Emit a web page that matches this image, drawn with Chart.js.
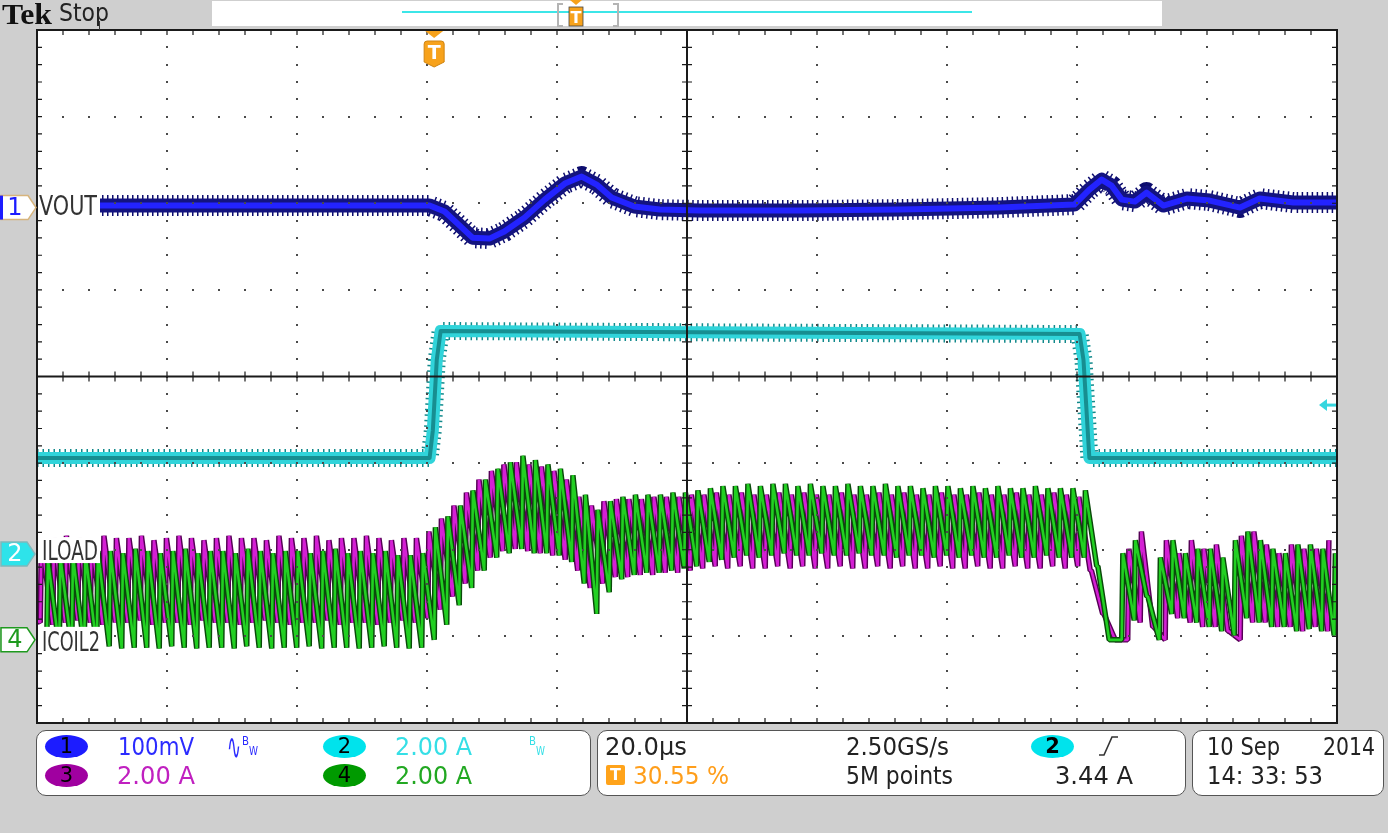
<!DOCTYPE html>
<html>
<head>
<meta charset="utf-8">
<title>Tek capture - VOUT / ILOAD / ICOIL2</title>
<script src="https://cdn.jsdelivr.net/npm/chart.js@4.4.1/dist/chart.umd.min.js"></script>
<style>
  html, body { margin: 0; padding: 0; background: #cfcfcf; }
  #wrap { position: relative; width: 1388px; height: 833px; overflow: hidden; background: #cfcfcf; }
  #scope { position: absolute; left: 0; top: 0; width: 1388px; height: 833px; }
  .txt { position: absolute; white-space: nowrap; font-family: "DejaVu Sans Condensed", "DejaVu Sans", sans-serif;
         font-stretch: condensed; font-size: 25px; line-height: 25px; color: #222; transform-origin: 0 50%; }
  .small { font-size: 12px; line-height: 12px; }
  .panel { position: absolute; background: #fff; border: 1.5px solid #555; border-radius: 10px; box-sizing: border-box; }
  .badge { position: absolute; width: 43px; height: 23px; border-radius: 50%; text-align: center;
           font: 21px/23px "DejaVu Sans", sans-serif; color: #000; }
</style>
</head>
<body>
<div id="wrap">
  <canvas id="scope" width="1388" height="833"></canvas>

  <!-- header -->
  <div class="txt" data-w="50" style="left:2px;top:0px;font-family:'Liberation Serif',serif;font-weight:bold;font-size:29px;line-height:29px;color:#111;">Tek</div>
  <div class="txt" data-w="50" style="left:59px;top:1px;font-size:24px;">Stop</div>
  <div style="position:absolute;left:99px;top:21px;width:1px;height:9px;background:#333;"></div>
  <div style="position:absolute;left:212px;top:1px;width:950px;height:25px;background:#fff;"></div>
  <div style="position:absolute;left:402px;top:11px;width:570px;height:2px;background:#3ce6e8;"></div>
  <div style="position:absolute;left:557px;top:3px;width:4px;height:20px;border:2px solid #b4b4b4;border-right:none;"></div>
  <div style="position:absolute;left:613px;top:3px;width:4px;height:20px;border:2px solid #b4b4b4;border-left:none;"></div>
  <svg style="position:absolute;left:567px;top:0;" width="18" height="28">
    <polygon points="3,0 15,0 9,5" fill="#f7a21b"/>
    <rect x="2" y="7" width="14" height="19" fill="#f7a21b" stroke="#444" stroke-width="0.8"/>
    <text x="9" y="23" text-anchor="middle" font-family="DejaVu Sans" font-weight="bold" font-size="16" fill="#fff">T</text>
  </svg>

  <!-- bottom panels -->
  <div class="panel" style="left:36px;top:730px;width:555px;height:66px;"></div>
  <div class="panel" style="left:597px;top:730px;width:589px;height:66px;"></div>
  <div class="panel" style="left:1192px;top:730px;width:192px;height:66px;"></div>

  <div class="badge" style="left:45px;top:735px;background:#1c1cff;">1</div>
  <div class="badge" style="left:45px;top:764px;background:#a000a0;">3</div>
  <div class="badge" style="left:323px;top:735px;background:#00e3ec;">2</div>
  <div class="badge" style="left:323px;top:764px;background:#009a00;">4</div>
  <div class="badge" style="left:1031px;top:735px;background:#00e3ec;font-weight:bold;">2</div>

  <div class="txt" data-w="76" style="left:118px;top:734px;color:#2b2bff;">100mV</div>
  <div class="txt" data-w="14" style="left:227px;top:729px;font-size:36px;line-height:36px;color:#2b2bff;">∿</div>
  <div class="txt small" data-w="7" style="left:242px;top:735px;color:#2b2bff;">B</div>
  <div class="txt small" data-w="9" style="left:249px;top:745px;color:#2b2bff;">W</div>
  <div class="txt" data-w="77" style="left:395px;top:734px;color:#35dfe6;">2.00 A</div>
  <div class="txt small" data-w="7" style="left:529px;top:735px;color:#35dfe6;">B</div>
  <div class="txt small" data-w="9" style="left:536px;top:745px;color:#35dfe6;">W</div>
  <div class="txt" data-w="78" style="left:117px;top:763px;color:#c020c0;">2.00 A</div>
  <div class="txt" data-w="77" style="left:395px;top:763px;color:#22a822;">2.00 A</div>

  <div class="txt" data-w="82" style="left:605px;top:734px;">20.0µs</div>
  <div style="position:absolute;left:606px;top:765px;width:19px;height:20px;background:#ffa31a;border-radius:2px;color:#fff;font:bold 16px/20px 'DejaVu Sans',sans-serif;text-align:center;">T</div>
  <div class="txt" data-w="96" style="left:633px;top:763px;color:#ff9e1b;">30.55 %</div>
  <div class="txt" data-w="103" style="left:846px;top:734px;">2.50GS/s</div>
  <div class="txt" data-w="107" style="left:846px;top:763px;">5M points</div>
  <svg style="position:absolute;left:1096px;top:734px;" width="26" height="24">
    <polyline points="3,21 8,21 16,3 22,3" fill="none" stroke="#333" stroke-width="1.6"/>
  </svg>
  <div class="txt" data-w="78" style="left:1055px;top:763px;">3.44 A</div>

  <div class="txt" data-w="73" style="left:1207px;top:734px;">10 Sep</div>
  <div class="txt" data-w="52" style="left:1323px;top:734px;">2014</div>
  <div class="txt" data-w="116" style="left:1207px;top:763px;">14: 33: 53</div>
</div>

<script>
// horizontal: 20 us/div, 10 div, trigger at 30.55 % of the record
const X_MIN = -61.1;
const X_MAX = 138.9;
const H_DIV = 10;
const V_DIV = 8;
const TRIG_LEVEL = 3.44; // A on ch2

// CH1 VOUT, mV relative to its marker
const VOUT_T  = [-61.1, -51.5, -0.7, 1.6, 3.6, 5.9, 8.5, 10.8, 13.9, 17.0, 20.1, 22.7, 25.0, 27.3, 30.8, 34.7,
                 40.8, 56.2, 71.6, 87.0, 98.5, 100.8, 102.7, 104.2, 105.8, 107.8, 109.6, 112.2, 115.8, 119.3,
                 124.0, 127.0, 132.2, 139.1];
const VOUT_MV = [2.3, 2.3, 2.3, -4.6, -18.5, -34.7, -35.8, -27.7, -11.6, 9.2, 27.7, 35.8, 26.6, 11.6, 1.2, -2.3,
                 -3.5, -3.5, -2.3, 0.0, 3.5, 20.8, 32.3, 25.4, 9.2, 6.9, 17.3, 2.3, 10.4, 8.1,
                 0.0, 10.4, 5.8, 5.8];

// CH2 ILOAD, A
const ILOAD_T = [-61.1, -0.7, -0.2, 0.4, 1.0, 40.8, 99.3, 99.9, 100.8, 139.1];
const ILOAD_A = [2.22, 2.22, 2.86, 4.48, 5.15, 5.12, 5.08, 4.48, 2.22, 2.22];

// CH3 / CH4 phase currents: one peak and one valley per switching cycle, A
const SW_PERIOD = 1.923; // us
const SW_RISE = 0.18;    // us
const GREEN_T0 = -59.6;
const MAG_T0 = -60.6;
const GREEN_START = 0.2;
const MAG_START = 0.45;

const GREEN_HI = [
  1.85, 1.90, 1.95, 2.00, 2.05, 2.05, 2.00, 2.10, 2.05, 2.00, 2.05, 2.10, 2.00, 2.05, 2.05, 2.00,
  2.10, 2.05, 2.00, 2.05, 2.05, 2.00, 2.05, 2.10, 2.00, 2.05, 2.00, 2.05, 1.95, 1.95, 2.00,
  2.60, 2.85, 3.10, 3.45, 3.70, 3.95, 4.10, 4.25, 4.15, 4.05, 3.95, 3.80, 3.35, 3.00, 3.20, 3.30,
  3.35, 3.35, 3.35, 3.40, 3.40, 3.45,
  3.50, 3.55, 3.55, 3.60, 3.55, 3.60, 3.60, 3.55, 3.60, 3.55, 3.55, 3.60, 3.55, 3.55, 3.60, 3.55,
  3.55, 3.50, 3.55, 3.55, 3.50, 3.55, 3.50, 3.55, 3.50, 3.50, 3.55, 3.50, 3.50, 3.50,
  3.45, 1.70, 0.00, 2.00, 2.30, 1.00, 1.90, 2.30, 2.00, 2.10, 2.10, 1.90, 2.30, 2.50, 2.30, 2.10,
  2.00, 2.20, 2.20, 2.10, 2.00
];
const GREEN_LO = [
  -0.15, -0.18, -0.18, -0.20, -0.18, -0.15, -0.20, -0.18, -0.18, -0.20, -0.15, -0.18, -0.20, -0.18,
  -0.18, -0.20, -0.15, -0.18, -0.20, -0.18, -0.18, -0.15, -0.20, -0.18, -0.18, -0.20, -0.18, -0.15,
  -0.18, -0.20, -0.18,
  0.00, 0.35, 0.80, 1.20, 1.60, 1.90, 2.00, 2.10, 2.00, 2.00, 1.95, 1.80, 1.30, 0.60, 1.10, 1.40,
  1.50, 1.55, 1.55, 1.60, 1.65, 1.70,
  1.80, 1.85, 1.90, 1.95, 1.90, 1.95, 2.00, 1.95, 1.95, 2.00, 1.95, 1.95, 2.00, 1.95, 1.95, 1.90,
  1.95, 1.95, 1.90, 1.95, 1.90, 1.95, 1.90, 1.90, 1.95, 1.90, 1.90, 1.95, 1.90, 1.90,
  1.90, 1.70, 0.00, 0.00, 0.45, 1.00, 0.00, 0.60, 0.50, 0.40, 0.30, 0.20, 0.10, 0.50, 0.40, 0.30,
  0.30, 0.20, 0.25, 0.20, 0.10
];
const MAG_HI = [
  2.30, 2.35, 2.40, 2.35, 2.30, 2.40, 2.35, 2.35, 2.40, 2.30, 2.35, 2.40, 2.35, 2.30, 2.35, 2.40,
  2.35, 2.35, 2.30, 2.40, 2.35, 2.35, 2.40, 2.30, 2.35, 2.35, 2.40, 2.35, 2.30, 2.35, 2.35,
  2.50, 2.80, 3.10, 3.40, 3.70, 3.90, 4.05, 4.10, 4.05, 4.00, 3.90, 3.70, 3.30, 3.10, 3.20, 3.25,
  3.25, 3.25, 3.30, 3.30, 3.30, 3.35,
  3.35, 3.40, 3.35, 3.40, 3.35, 3.35, 3.40, 3.35, 3.40, 3.35, 3.35, 3.40, 3.35, 3.35, 3.40, 3.35,
  3.40, 3.35, 3.35, 3.40, 3.35, 3.35, 3.40, 3.35, 3.35, 3.40, 3.35, 3.35, 3.40, 3.35,
  3.30, 1.60, 0.60, 0.00, 2.10, 2.50, 0.30, 2.30, 2.00, 2.30, 2.10, 2.20, 0.20, 2.40, 2.50, 2.20,
  2.00, 2.20, 2.10, 2.10, 2.30
];
const MAG_LO = [
  0.40, 0.35, 0.40, 0.45, 0.40, 0.35, 0.40, 0.40, 0.45, 0.35, 0.40, 0.40, 0.35, 0.45, 0.40, 0.40,
  0.35, 0.40, 0.45, 0.40, 0.35, 0.40, 0.40, 0.45, 0.35, 0.40, 0.40, 0.35, 0.40, 0.45, 0.40,
  0.50, 0.70, 1.00, 1.30, 1.60, 1.90, 2.05, 2.10, 2.05, 2.00, 1.95, 1.85, 1.60, 1.20, 1.30, 1.45,
  1.45, 1.50, 1.50, 1.55, 1.55, 1.60,
  1.65, 1.70, 1.65, 1.70, 1.65, 1.65, 1.70, 1.65, 1.70, 1.65, 1.65, 1.70, 1.65, 1.65, 1.70, 1.65,
  1.70, 1.65, 1.65, 1.70, 1.65, 1.65, 1.70, 1.65, 1.65, 1.70, 1.65, 1.65, 1.70, 1.65,
  1.70, 1.60, 0.60, 0.00, 0.00, 0.40, 0.30, 0.00, 0.50, 0.40, 0.30, 0.30, 0.20, 0.00, 0.40, 0.40,
  0.30, 0.30, 0.20, 0.30, 0.20
];

function pairs(xs, ys) {
    return xs.map((x, i) => ({ x: x, y: ys[i] }));
}

function phasePoints(t0, start, hi, lo) {
    const pts = [{ x: X_MIN, y: start }];
    for (let k = 0; k < hi.length; k++) {
        const t = t0 + k * SW_PERIOD;
        pts.push({ x: t, y: lo[k] });
        pts.push({ x: t + SW_RISE, y: hi[k] });
    }
    return pts;
}

function trace(data, axis, color, width, order, dash, join) {
    return {
        data: data,
        yAxisID: axis,
        borderColor: color,
        borderWidth: width,
        borderDash: dash || [],
        borderJoinStyle: join || 'round',
        borderCapStyle: 'butt',
        order: order,
        pointRadius: 0,
        tension: 0,
        fill: false,
        clip: 0
    };
}

function fitText(ctx, str, x, cy, w, size, color) {
    ctx.save();
    ctx.font = size + 'px "DejaVu Sans Condensed", "DejaVu Sans", sans-serif';
    ctx.fillStyle = color;
    ctx.textBaseline = 'alphabetic';
    const m = ctx.measureText(str).width;
    ctx.translate(x, cy + size * 0.365);
    ctx.scale(w / m, 1);
    ctx.fillText(str, 0, 0);
    ctx.restore();
}

function chMarker(ctx, tipX, cy, fill, stroke, textColor, label) {
    ctx.save();
    ctx.beginPath();
    ctx.moveTo(1, cy - 12);
    ctx.lineTo(tipX - 8, cy - 12);
    ctx.lineTo(tipX, cy);
    ctx.lineTo(tipX - 8, cy + 12);
    ctx.lineTo(1, cy + 12);
    ctx.closePath();
    ctx.fillStyle = fill;
    ctx.fill();
    ctx.lineWidth = 1.5;
    ctx.strokeStyle = stroke;
    ctx.stroke();
    ctx.fillStyle = textColor;
    ctx.font = '24px "DejaVu Sans", sans-serif';
    ctx.textAlign = 'center';
    ctx.textBaseline = 'middle';
    ctx.fillText(label, 15, cy + 1);
    ctx.restore();
}

const graticule = {
    id: 'graticule',
    beforeDatasetsDraw(chart) {
        const { ctx, chartArea: a } = chart;
        ctx.save();
        ctx.fillStyle = '#ffffff';
        ctx.fillRect(a.left, a.top, a.right - a.left, a.bottom - a.top);
        ctx.restore();
    },
    afterDatasetsDraw(chart) {
        const { ctx, chartArea: a } = chart;
        const dx = (a.right - a.left) / H_DIV;
        const dy = (a.bottom - a.top) / V_DIV;
        ctx.save();
        ctx.fillStyle = '#4a4a4a';
        for (let i = 1; i < H_DIV; i++) {
            if (i === H_DIV / 2) continue;
            const x = a.left + i * dx;
            for (let j = 1; j < V_DIV * 5; j++) {
                ctx.fillRect(Math.round(x) - 1, Math.round(a.top + j * dy / 5) - 1, 2, 2);
            }
        }
        for (let j = 1; j < V_DIV; j++) {
            if (j === V_DIV / 2) continue;
            const y = a.top + j * dy;
            for (let i = 1; i < H_DIV * 5; i++) {
                ctx.fillRect(Math.round(a.left + i * dx / 5) - 1, Math.round(y) - 1, 2, 2);
            }
        }
        const cx = a.left + dx * H_DIV / 2;
        const cy = a.top + dy * V_DIV / 2;
        ctx.strokeStyle = '#1a1a1a';
        ctx.lineWidth = 2;
        ctx.beginPath();
        ctx.moveTo(cx, a.top); ctx.lineTo(cx, a.bottom);
        ctx.moveTo(a.left, cy); ctx.lineTo(a.right, cy);
        ctx.stroke();
        ctx.lineWidth = 1.2;
        ctx.beginPath();
        for (let j = 1; j < V_DIV * 5; j++) {
            const y = a.top + j * dy / 5;
            ctx.moveTo(cx - 5, y); ctx.lineTo(cx + 5, y);
            ctx.moveTo(a.left, y); ctx.lineTo(a.left + 5, y);
            ctx.moveTo(a.right - 5, y); ctx.lineTo(a.right, y);
        }
        for (let i = 1; i < H_DIV * 5; i++) {
            const x = a.left + i * dx / 5;
            ctx.moveTo(x, cy - 5); ctx.lineTo(x, cy + 5);
            ctx.moveTo(x, a.top); ctx.lineTo(x, a.top + 5);
            ctx.moveTo(x, a.bottom - 5); ctx.lineTo(x, a.bottom);
        }
        ctx.stroke();
        ctx.lineWidth = 2;
        ctx.strokeRect(a.left, a.top, a.right - a.left, a.bottom - a.top);
        ctx.restore();
    }
};

const overlay = {
    id: 'overlay',
    afterDraw(chart) {
        const { ctx, chartArea: a, scales } = chart;
        const g1 = scales.yV.getPixelForValue(0);
        const g2 = scales.yI.getPixelForValue(0);
        const g4 = scales.yC.getPixelForValue(0);

        // trace labels on a white patch
        ctx.save();
        ctx.fillStyle = '#ffffff';
        ctx.fillRect(a.left + 1, g1 - 14, 62, 26);
        ctx.fillRect(a.left + 1, g2 - 17, 62, 26);
        ctx.fillRect(a.left + 1, g4 - 13, 64, 26);
        ctx.restore();
        fitText(ctx, 'VOUT', 39, g1 - 2, 58, 27, '#333');
        fitText(ctx, 'ILOAD', 42, g2 - 4, 56, 27, '#333');
        fitText(ctx, 'ICOIL2', 42, g4 + 1, 58, 27, '#333');

        // channel ground markers
        chMarker(ctx, a.left - 1, g1, '#ffffff', '#d7b47c', '#1c1cff', '1');
        ctx.fillStyle = '#1c1cff';
        ctx.fillRect(0, g1 - 12, 3, 24);
        chMarker(ctx, a.left - 2, g2, '#2ee3ea', '#7fb8bb', '#ffffff', '2');
        chMarker(ctx, a.left - 2, g4, '#ffffff', '#1f9a1f', '#1f9a1f', '4');

        // trigger level arrow on ch2
        const ty = scales.yI.getPixelForValue(TRIG_LEVEL);
        ctx.save();
        ctx.fillStyle = '#35d6df';
        ctx.beginPath();
        ctx.moveTo(a.right - 18, ty);
        ctx.lineTo(a.right - 10, ty - 6);
        ctx.lineTo(a.right - 10, ty + 6);
        ctx.closePath();
        ctx.fill();
        ctx.fillRect(a.right - 11, ty - 1.5, 10, 3);
        ctx.restore();

        // trigger position marker
        const tx = scales.x.getPixelForValue(0);
        ctx.save();
        ctx.fillStyle = '#f7a21b';
        ctx.beginPath();
        ctx.moveTo(tx - 9, a.top + 1);
        ctx.lineTo(tx + 9, a.top + 1);
        ctx.lineTo(tx, a.top + 8);
        ctx.closePath();
        ctx.fill();
        ctx.beginPath();
        ctx.moveTo(tx - 10, a.top + 14);
        ctx.quadraticCurveTo(tx - 10, a.top + 11, tx - 7, a.top + 11);
        ctx.lineTo(tx + 7, a.top + 11);
        ctx.quadraticCurveTo(tx + 10, a.top + 11, tx + 10, a.top + 14);
        ctx.lineTo(tx + 10, a.top + 32);
        ctx.lineTo(tx, a.top + 37);
        ctx.lineTo(tx - 10, a.top + 32);
        ctx.closePath();
        ctx.fill();
        ctx.strokeStyle = '#d08410';
        ctx.lineWidth = 1;
        ctx.stroke();
        ctx.fillStyle = '#ffffff';
        ctx.font = 'bold 19px "DejaVu Sans", sans-serif';
        ctx.textAlign = 'center';
        ctx.textBaseline = 'middle';
        ctx.fillText('T', tx, a.top + 24);
        ctx.restore();
    }
};

const vout = pairs(VOUT_T, VOUT_MV);
const iload = pairs(ILOAD_T, ILOAD_A);
const icoilMag = phasePoints(MAG_T0, MAG_START, MAG_HI, MAG_LO);
const icoilGreen = phasePoints(GREEN_T0, GREEN_START, GREEN_HI, GREEN_LO);

new Chart(document.getElementById('scope').getContext('2d'), {
    type: 'line',
    data: {
        datasets: [
            trace(vout, 'yV', '#0d0d6e', 21, 9, [1.5, 3.5]),
            trace(vout, 'yV', '#13137f', 14, 8),
            trace(vout, 'yV', '#2323ff', 6, 7),
            trace(iload, 'yI', '#11898b', 18, 6, [1.5, 4]),
            trace(iload, 'yI', '#30d4da', 12, 5),
            trace(iload, 'yI', '#178e91', 4, 4),
            trace(icoilMag, 'yC', '#560056', 5.5, 3, null, 'bevel'),
            trace(icoilMag, 'yC', '#d420d4', 2.6, 2, null, 'bevel'),
            trace(icoilGreen, 'yC', '#0a4a0a', 5.5, 1, null, 'bevel'),
            trace(icoilGreen, 'yC', '#22d022', 2.6, 0, null, 'bevel')
        ]
    },
    options: {
        responsive: false,
        maintainAspectRatio: false,
        animation: false,
        layout: { padding: { left: 37, top: 30, right: 51, bottom: 110 } },
        plugins: { legend: { display: false }, tooltip: { enabled: false } },
        events: [],
        scales: {
            x: { type: 'linear', min: X_MIN, max: X_MAX, display: false },
            yV: { type: 'linear', min: -595, max: 205, display: false },
            yI: { type: 'linear', min: -3.90, max: 12.10, display: false },
            yC: { type: 'linear', min: -1.92, max: 14.08, display: false }
        }
    },
    plugins: [graticule, overlay]
});

document.querySelectorAll('.txt[data-w]').forEach(el => {
    const w = el.getBoundingClientRect().width;
    if (w > 0) el.style.transform = 'scaleX(' + (el.dataset.w / w) + ')';
});
</script>
</body>
</html>
